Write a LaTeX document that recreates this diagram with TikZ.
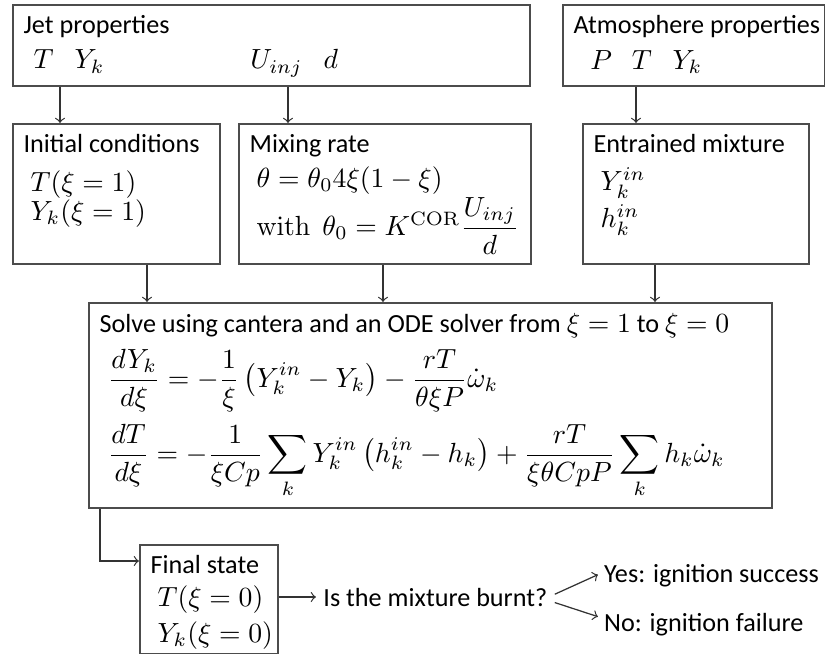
\documentclass[tikz,border=0pt]{standalone}
\usepackage{amsmath}
\usepackage[no-math]{fontspec}
\setmainfont{Carlito}[Scale=0.945]

\tikzset{
  boxnode/.style 2 args={draw=black!70, line width=0.6pt, anchor=north west,
    minimum width=#1*0.361pt, minimum height=#2*0.361pt, inner sep=0pt},
  boxtext/.style={anchor=north west, align=left, inner sep=4pt},
  link/.style={->, draw=black!80, line width=0.45pt},
}

\begin{document}
\begin{tikzpicture}[x=0.361pt,y=-0.361pt]
  \useasboundingbox (0,0) rectangle (825,654);
  % inputs
  \node[boxnode={517}{81}] (jet) at (12,4) {};
  \node[boxtext] (jettxt) at (jet.north west)
    {Jet properties\\[0.7pt] \hspace*{3.6pt}$T$\hspace{7.6pt}$Y_k$\hspace{52.7pt}$U_{inj}$\hspace{7.6pt}$d$};
  \node[boxnode={262}{81}] (atm) at (562,4) {};
  \node[boxtext] (atmtxt) at (atm.north west)
    {Atmosphere properties\\[0.7pt] \hspace*{6pt}$P$\hspace{7.2pt}$T$\hspace{7.5pt}$Y_k$};
  % intermediate boxes
  \node[boxnode={207}{140}] (ini) at (12,123) {};
  \node[boxtext] (initxt) at (ini.north west)
    {Initial conditions\\[2pt] \hspace*{2.5pt}$T(\xi=1)$\\[-1.5pt] \hspace*{2.5pt}$Y_k(\xi=1)$};
  \node[boxnode={292}{140}] (mix) at (238,123) {};
  \node[boxtext] (mixtxt) at (mix.north west)
    {Mixing rate\\[0.7pt] \hspace*{2.5pt}$\theta=\theta_0 4\xi(1-\xi)$\\
     \hspace*{2.5pt}$\mathrm{with}\ \ \theta_0=K^{\mathrm{COR}}\dfrac{U_{inj}}{d}$};
  \node[boxnode={226}{140}] (ent) at (582,123) {};
  \node[boxtext] (enttxt) at (ent.north west)
    {Entrained mixture\\[1.7pt] \hspace*{2.5pt}$Y_k^{in}$\\[1.2pt] \hspace*{2.5pt}$h_k^{in}$};
  % solver
  \node[boxnode={683}{205}] (solve) at (88,302) {};
  \node[boxtext] (solvetxt) at (solve.north west)
    {Solve using cantera and an ODE solver from $\xi=1$ to $\xi=0$\\[3pt]
     \hspace*{3pt}$\displaystyle\frac{dY_k}{d\xi}=-\frac{1}{\xi}\left(Y_k^{in}-Y_k\right)-\frac{rT}{\theta\xi P}\dot{\omega}_k$\\[3.5pt]
     \hspace*{3pt}$\displaystyle\frac{dT}{d\xi}=-\frac{1}{\xi Cp}\sum_k Y_k^{in}\left(h_k^{in}-h_k\right)+\frac{rT}{\xi\theta CpP}\sum_k h_k\dot{\omega}_k$};
  % output
  \node[boxnode={138}{109}] (final) at (139,544) {};
  \node[boxtext] (finaltxt) at (final.north west)
    {Final state\\[-0.3pt] \hspace*{2.5pt}$T(\xi=0)$\\[1pt] \hspace*{2.5pt}$Y_k(\xi=0)$};
  \node[anchor=west, inner sep=2.5pt] (burnt) at (316,597) {Is the mixture burnt?};
  \node[anchor=west, inner sep=2pt] (yes) at (598,576) {Yes: ignition success};
  \node[anchor=west, inner sep=2pt] (no) at (598,625) {No: ignition failure};

  % where the arrows run
  \coordinate (xa) at (60,0);
  \coordinate (xb) at (288,0);
  \coordinate (xc) at (636,0);
  \coordinate (xd) at (147,0);
  \coordinate (xe) at (383,0);
  \coordinate (xf) at (655,0);
  \coordinate (xg) at (100,0);
  \coordinate (yg) at (0,561);

  \draw[link] (jet.south -| xa) -- (ini.north -| xa);
  \draw[link] (jet.south -| xb) -- (mix.north -| xb);
  \draw[link] (atm.south -| xc) -- (ent.north -| xc);
  \draw[link] (ini.south -| xd) -- (solve.north -| xd);
  \draw[link] (mix.south -| xe) -- (solve.north -| xe);
  \draw[link] (ent.south -| xf) -- (solve.north -| xf);
  \draw[link] (solve.south -| xg) |- (final.west |- yg);
  \draw[link] (final.east |- burnt.west) -- (burnt.west);
  \draw[link] ([yshift=1pt]burnt.east) -- ([yshift=0.5pt]yes.west);
  \draw[link] ([yshift=-2pt]burnt.east) -- ([yshift=3pt]no.west);
\end{tikzpicture}
\end{document}
